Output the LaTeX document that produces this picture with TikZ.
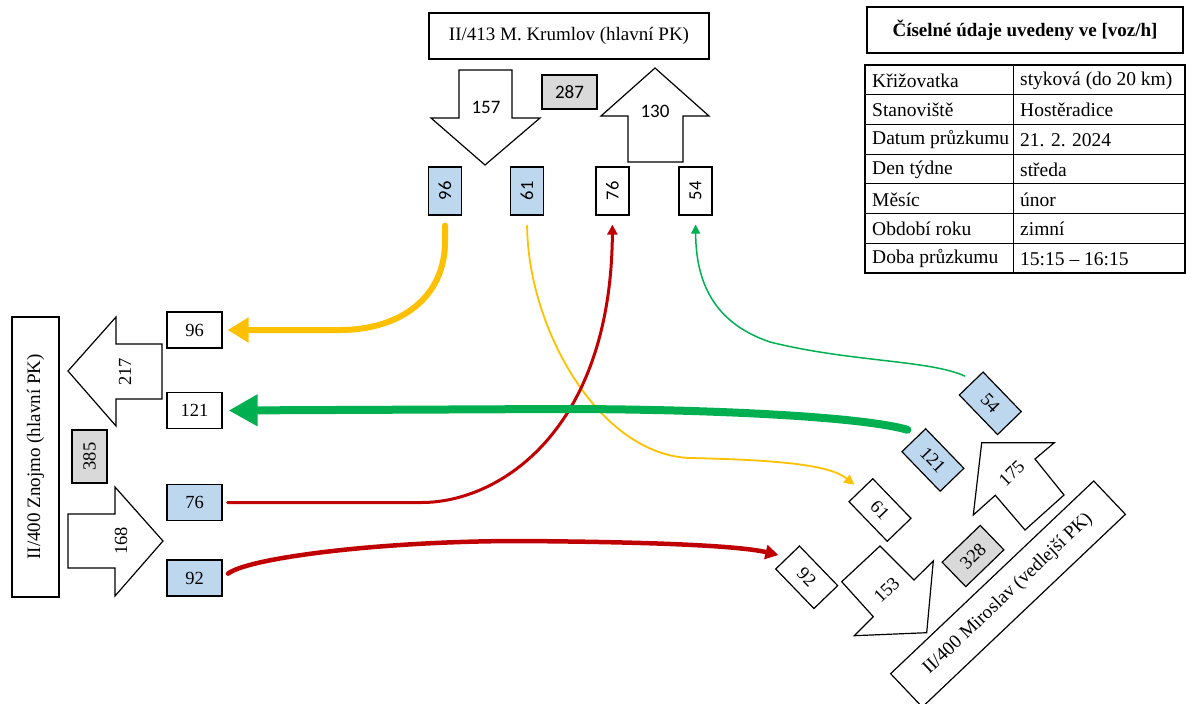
\documentclass[tikz,border=0pt]{standalone}
\usepackage{fontspec}
\usepackage{graphicx}
\setmainfont{Liberation Serif}
\newfontfamily\calfont{Carlito}
\usetikzlibrary{arrows.meta,calc}
\definecolor{myyellow}{HTML}{FFC000}
\definecolor{myred}{HTML}{C00000}
\definecolor{mygreen}{HTML}{00B050}
\definecolor{myblue}{HTML}{BDD7EE}
\definecolor{mygrey}{HTML}{D9D9D9}
\begin{document}
\begin{tikzpicture}[x=1pt,y=-1pt,
  box/.style={draw=black,line width=1.2pt,inner sep=0pt,font=\fontsize{18.5}{20}\selectfont},
  lbl/.style={box,minimum width=280pt,minimum height=46pt,font=\fontsize{19}{22}\selectfont},
  topnum/.style={box,minimum width=33pt,minimum height=48pt,font=\calfont\fontsize{18.5}{20}\selectfont},
  sidenum/.style={box,minimum width=55pt,minimum height=36pt},
  brnum/.style={box,minimum width=55pt,minimum height=33pt,rotate=-46},
  bluefill/.style={fill=myblue},
  greyfill/.style={fill=mygrey},
  bigarrow/.style={draw=black,line width=1.2pt,line join=miter,fill=white},
  arrnum/.style={inner sep=0pt,font=\fontsize{18.5}{20}\selectfont},
  calnum/.style={inner sep=0pt,font=\calfont\fontsize{19}{20}\selectfont},
  cell/.style={anchor=west,inner sep=0pt,font=\fontsize{19.5}{22}\selectfont},
  flow/.style={line cap=round},
]
\useasboundingbox (0,0) rectangle (1186,704);

% ---------- top approach ----------
\node[lbl] (ltop) at (569,36) {II/413 M. Krumlov (hlavní PK)};
\draw[bigarrow] (459,70) -- (512,70) -- (512,118) -- (540,118) -- (485,165) -- (431,118) -- (459,118) -- cycle;
\node[calnum] (n157) at (486,107) {157};
\draw[bigarrow] (655,68) -- (709,116) -- (683,116) -- (683,162) -- (628,162) -- (628,116) -- (601,116) -- cycle;
\node[calnum] (n130) at (655,111) {130};
\node[box,greyfill,minimum width=55pt,minimum height=34pt,font=\calfont\fontsize{19}{20}\selectfont] (n287) at (569.5,92) {287};

\node[topnum,bluefill] (t96) at (445,191) {\rotatebox{90}{96}};
\node[topnum,bluefill] (t61) at (527,191) {\rotatebox{90}{61}};
\node[topnum] (t76) at (612.5,191) {\rotatebox{90}{76}};
\node[topnum] (t54) at (695.5,191) {\rotatebox{90}{54}};

% ---------- left approach ----------
\node[box,minimum width=280pt,minimum height=47pt,rotate=90,font=\fontsize{19}{22}\selectfont] (lleft) at (35.5,457) {II/400 Znojmo (hlavní PK)};
\draw[bigarrow] (68,371) -- (116,317) -- (116,344) -- (162,344) -- (162,399) -- (116,399) -- (116,426) -- cycle;
\node[arrnum,rotate=90] (n217) at (125,372) {217};
\node[box,greyfill,minimum width=53pt,minimum height=35pt,rotate=90] (n385) at (89.5,456.5) {385};
\draw[bigarrow] (68,514) -- (115,514) -- (115,487) -- (163,541) -- (115,596) -- (115,568) -- (68,568) -- cycle;
\node[arrnum,rotate=90] (n168) at (121,541) {168};

\node[sidenum] (l96) at (194.5,330) {96};
\node[sidenum] (l121) at (194.5,410.5) {121};
\node[sidenum,bluefill] (l76) at (194.5,502.5) {76};
\node[sidenum,bluefill] (l92) at (194.5,578) {92};

% ---------- bottom-right approach ----------
\node[lbl,rotate=43.5] (lbr) at (1008,594) {II/400 Miroslav (vedlejší PK)};
\draw[bigarrow] (841.7,581.7) -- (880,546) -- (914,580) -- (933.3,561) -- (926.7,632.7) -- (854.3,635.7) -- (873.3,616.7) -- cycle;
\node[arrnum,rotate=44] (n153) at (886.7,590) {153};
\draw[bigarrow] (981.7,442.7) -- (1054.3,442.7) -- (1035,459) -- (1064,495) -- (1025,530) -- (995.3,495.3) -- (973.3,515) -- cycle;
\node[arrnum,rotate=44] (n175) at (1011.7,473.3) {175};
\node[box,greyfill,minimum width=53pt,minimum height=34pt,rotate=44] (n328) at (973,556) {328};

\node[brnum,bluefill] (b54) at (990.3,403.3) {54};
\node[brnum,bluefill] (b121) at (932.9,460) {121};
\node[brnum] (b61) at (880,510) {61};
\node[brnum] (b92) at (806.7,577.3) {92};

% ---------- table ----------
\node[box,line width=1.4pt,minimum width=316pt,minimum height=46pt,font=\bfseries\fontsize{19}{22}\selectfont] (title) at (1025,30) {Číselné údaje uvedeny ve [voz/h]};
\draw[line width=1.2pt] (865,65) rectangle (1185,273);
\draw[line width=1pt] (1013,65) -- (1013,273);
\foreach \k in {1,...,6} {\draw[line width=1pt] (865,65+29.714*\k) -- (1185,65+29.714*\k);}
\foreach \a/\b [count=\k from 0] in {Křižovatka/styková (do 20 km),Stanoviště/Hostěradice,Datum průzkumu/21. 2. 2024,Den týdne/středa,Měsíc/únor,Období roku/zimní,Doba průzkumu/15:15 – 16:15} {
  \node[cell] (ca\k) at (872,65+29.714*\k+15.5) {\a};
  \node[cell] (cb\k) at (1020,65+29.714*\k+15.5) {\b};
}

% ---------- flows ----------
% yellow thick: top 96 -> left 96
\draw[flow,myyellow,line width=6pt,shorten <=10pt,-{Triangle[length=21pt,width=24pt]}]
  (t96.south) -- ++(0,26) .. controls +(0,55) and +(62,0) .. ($(l96.east)+(117,0)$) -- ($(l96.east)+(5,0)$);
% yellow thin: top 61 -> bottom-right 61
\draw[flow,myyellow,line width=1.8pt,shorten <=10pt,shorten >=8pt,-{Triangle[length=10pt,width=10pt]}]
  (t61.south) .. controls (528,330) and (600,455) .. (690,458) .. controls (780,460) and (830,465) .. (b61.west);
% red: left 76 -> top 76
\draw[flow,myred,line width=3pt,shorten <=5pt,shorten >=9pt,-{Triangle[length=10pt,width=10pt]}]
  (l76.east) -- ($(l76.east)+(199,0)$) .. controls (500,502.5) and (611,430) .. (t76.south);
% red: left 92 -> bottom-right 92
\draw[flow,myred,line width=4.5pt,shorten <=7pt,shorten >=9pt,-{Triangle[length=13pt,width=14pt]}]
  (l92.east) .. controls +(25,-20) and (380,541) .. (520,541) .. controls (660,542) and (740,546) .. (b92.west);
% green thick: bottom-right 121 -> left 121
\coordinate (g121) at ($(b121.west)+(-6,-10)$);
\draw[flow,mygreen,line width=8pt,shorten >=6pt,-{Triangle[length=29pt,width=30pt]}]
  (g121) .. controls (860,416) and (700,409) .. (560,409) -- (l121.east);
% green thin: bottom-right 54 -> top 54
\coordinate (g54) at ($(b54.west)+(-6,-7)$);
\draw[flow,mygreen,line width=1.5pt,shorten >=9pt,-{Triangle[length=9pt,width=9pt]}]
  (g54) .. controls (930,360) and (850,362) .. (770,342) .. controls (720,325) and (696,290) .. (t54.south);
\end{tikzpicture}
\end{document}
